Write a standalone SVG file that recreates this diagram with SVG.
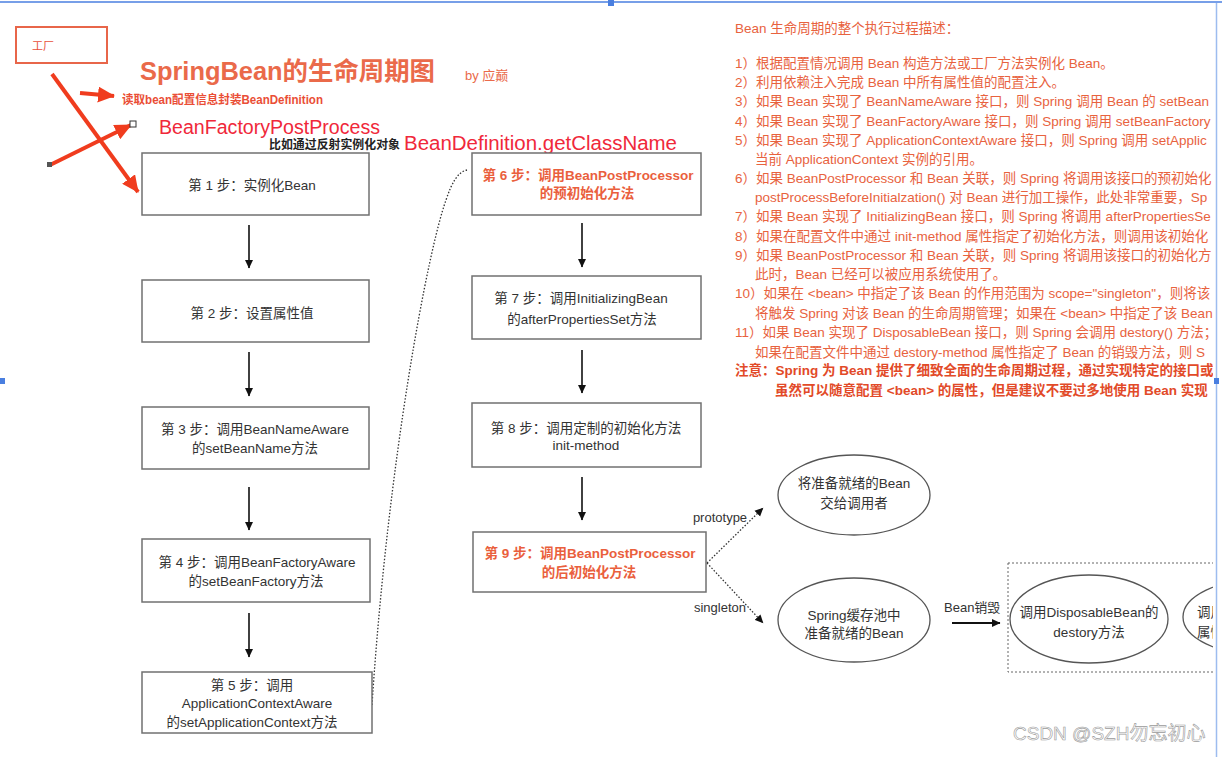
<svg xmlns="http://www.w3.org/2000/svg" width="1222" height="757" viewBox="0 0 1222 757">
<defs>
<style>
.f{font-family:"Liberation Sans","Noto Sans CJK SC",sans-serif}
.box{fill:#fff;stroke:#707070;stroke-width:1.5}
.bt{font-size:13.5px;fill:#333;text-anchor:middle}
.rt{font-weight:bold;fill:#ea5f3d}
.flow{stroke:#111;stroke-width:1.6;fill:none;marker-end:url(#ah)}
.dot{stroke:#333;stroke-width:1.3;fill:none;stroke-dasharray:1.5 1.8}
.ell{fill:#fff;stroke:#555;stroke-width:1.3}
.red{stroke:#f03c1e;stroke-width:4;fill:none;marker-end:url(#rh)}
.desc{font-size:13.5px;fill:#e8623e}
.note{font-size:13.5px;fill:#e24a28;font-weight:bold}
</style>
<marker id="ah" markerUnits="userSpaceOnUse" markerWidth="9" markerHeight="9" refX="8" refY="4.5" orient="auto"><path d="M0,0.5 L8.5,4.5 L0,8.5 z" fill="#111"/></marker>
<marker id="rh" markerUnits="userSpaceOnUse" markerWidth="18" markerHeight="16" refX="16" refY="8" orient="auto"><path d="M0,0 L17,8 L0,16 z" fill="#f03c1e"/></marker>
<clipPath id="clipR"><rect x="0" y="0" width="1213" height="757"/></clipPath>
</defs>
<rect width="1222" height="757" fill="#fff"/>
<line x1="0" y1="2" x2="1222" y2="2" stroke="#4a7fe0" stroke-width="1.5"/>
<line x1="1216.5" y1="3" x2="1216.5" y2="757" stroke="#9dbcef" stroke-width="1.5"/>
<rect x="608" y="0" width="6" height="6" fill="#4a7fe0"/>
<rect x="0" y="378" width="5" height="6" fill="#4a7fe0"/>
<rect x="1214" y="378" width="5" height="6" fill="#4a7fe0"/>

<g id="factory">
<rect x="16" y="27" width="91" height="36" fill="none" stroke="#e8664a" stroke-width="2"/>
<text class="f" x="32" y="50" font-size="11" fill="#e8503a">工厂</text>
</g>
<g id="title">
<text class="f" x="140" y="80" font-size="25" font-weight="bold" fill="#ea6a4a" textLength="295" lengthAdjust="spacingAndGlyphs">SpringBean的生命周期图</text>
<text class="f" x="465" y="80" font-size="13" fill="#ea6a4a">by 应巅</text>
</g>
<g id="annotations">
<text class="f" x="122" y="104" font-size="12" font-weight="bold" fill="#ea4e36" textLength="201" lengthAdjust="spacingAndGlyphs">读取bean配置信息封装BeanDefinition</text>
<text class="f" x="159" y="134" font-size="19.5" fill="#f0283a" textLength="221" lengthAdjust="spacingAndGlyphs">BeanFactoryPostProcess</text>
<text class="f" x="269" y="149" font-size="12" font-weight="bold" fill="#222" textLength="131" lengthAdjust="spacingAndGlyphs">比如通过反射实例化对象</text>
<text class="f" x="404" y="150" font-size="20" fill="#f0283a" textLength="273" lengthAdjust="spacingAndGlyphs">BeanDefinition.getClassName</text>
</g>

<g id="red-arrows">
<path class="red" d="M80,93 L114,96"/>
<path class="red" d="M52,74 L138,192"/>
<path class="red" d="M50,165 L131,125"/>
<rect x="47" y="162" width="5" height="5" fill="#555"/>
<rect x="130" y="121" width="6" height="6" fill="#fff" stroke="#333" stroke-width="1"/>
</g>

<g id="connectors">
<path class="flow" d="M249,225 V268"/>
<path class="flow" d="M249,352 V396"/>
<path class="flow" d="M249,487 V530"/>
<path class="flow" d="M249,613 V657"/>
<path class="flow" d="M582,223 V267"/>
<path class="flow" d="M582,350 V393"/>
<path class="flow" d="M582,477 V520"/>
<path class="dot" d="M372,705 C388,460 428,250 446,200 C452,182 458,172 467,170"/>
<path class="dot" d="M707,563 L763,508" marker-end="url(#ah)"/>
<path class="dot" d="M707,563 L763,623" marker-end="url(#ah)"/>
<path d="M952,623 H1000" stroke="#111" stroke-width="2" marker-end="url(#ah)"/>
<text class="f" x="720" y="522" font-size="13" fill="#333" text-anchor="middle">prototype</text>
<text class="f" x="720" y="612" font-size="13" fill="#333" text-anchor="middle">singleton</text>
<text class="f" x="944" y="612" font-size="13" fill="#333">Bean销毁</text>
</g>

<g id="step1"><rect class="box" x="142" y="153" width="227" height="62"/><text class="f bt" x="252" y="190">第 1 步：实例化Bean</text></g>
<g id="step2"><rect class="box" x="142" y="280" width="227" height="62"/><text class="f bt" x="252" y="318">第 2 步：设置属性值</text></g>
<g id="step3"><rect class="box" x="142" y="407" width="227" height="62"/><text class="f bt" x="255" y="434">第 3 步：调用BeanNameAware</text><text class="f bt" x="255" y="453">的setBeanName方法</text></g>
<g id="step4"><rect class="box" x="142" y="539" width="228" height="63"/><text class="f bt" x="257" y="567">第 4 步：调用BeanFactoryAware</text><text class="f bt" x="256" y="586">的setBeanFactory方法</text></g>
<g id="step5"><rect class="box" x="142" y="672" width="230" height="61"/><text class="f bt" x="252" y="690">第 5 步：调用</text><text class="f bt" x="257" y="708">ApplicationContextAware</text><text class="f bt" x="252" y="727">的setApplicationContext方法</text></g>

<g id="step6"><rect class="box" x="472" y="153" width="229" height="62"/><text class="f bt rt" x="588" y="180">第 6 步：调用BeanPostProcessor</text><text class="f bt rt" x="587" y="198">的预初始化方法</text></g>
<g id="step7"><rect class="box" x="472" y="276" width="229" height="63"/><text class="f bt" x="581" y="303">第 7 步：调用InitializingBean</text><text class="f bt" x="582" y="324">的afterPropertiesSet方法</text></g>
<g id="step8"><rect class="box" x="472" y="403" width="229" height="64"/><text class="f bt" x="586" y="433">第 8 步：调用定制的初始化方法</text><text class="f bt" x="586" y="450">init-method</text></g>
<g id="step9"><rect class="box" x="473" y="532" width="233" height="60" stroke="#555"/><text class="f bt rt" x="590" y="558">第 9 步：调用BeanPostProcessor</text><text class="f bt rt" x="589" y="577">的后初始化方法</text></g>

<g id="prototype-node"><ellipse class="ell" cx="854" cy="495" rx="76" ry="40"/><text class="f bt" x="854" y="488">将准备就绪的Bean</text><text class="f bt" x="854" y="508">交给调用者</text></g>
<g id="singleton-node"><ellipse class="ell" cx="854" cy="620" rx="76" ry="42"/><text class="f bt" x="854" y="620">Spring缓存池中</text><text class="f bt" x="854" y="638">准备就绪的Bean</text></g>

<g id="destroy-group" clip-path="url(#clipR)">
<rect x="1008" y="563" width="260" height="109" fill="none" stroke="#666" stroke-width="1" stroke-dasharray="2 2"/>
<g id="disposable-node"><ellipse class="ell" cx="1089" cy="619" rx="79" ry="44"/><text class="f bt" x="1089" y="617">调用DisposableBean的</text><text class="f bt" x="1089" y="637">destory方法</text></g>
<g id="destroy-method-node"><ellipse class="ell" cx="1262" cy="617" rx="79" ry="38"/><text class="f" x="1197" y="617" font-size="13.5" fill="#333">调用</text><text class="f" x="1197" y="637" font-size="13.5" fill="#333">属性</text></g>
</g>

<g id="description" clip-path="url(#clipR)" class="f">
<text class="desc" x="735" y="33">Bean 生命周期的整个执行过程描述：</text>
<text class="desc" x="735" y="68">1）根据配置情况调用 Bean 构造方法或工厂方法实例化 Bean。</text>
<text class="desc" x="735" y="87">2）利用依赖注入完成 Bean 中所有属性值的配置注入。</text>
<text class="desc" x="735" y="106">3）如果 Bean 实现了 BeanNameAware 接口，则 Spring 调用 Bean 的 setBean</text>
<text class="desc" x="735" y="126">4）如果 Bean 实现了 BeanFactoryAware 接口，则 Spring 调用 setBeanFactory</text>
<text class="desc" x="735" y="145">5）如果 Bean 实现了 ApplicationContextAware 接口，则 Spring 调用 setApplic</text>
<text class="desc" x="755" y="164">当前 ApplicationContext 实例的引用。</text>
<text class="desc" x="735" y="183">6）如果 BeanPostProcessor 和 Bean 关联，则 Spring 将调用该接口的预初始化</text>
<text class="desc" x="755" y="202">postProcessBeforeInitialzation() 对 Bean 进行加工操作，此处非常重要，Sp</text>
<text class="desc" x="735" y="221">7）如果 Bean 实现了 InitializingBean 接口，则 Spring 将调用 afterPropertiesSe</text>
<text class="desc" x="735" y="241">8）如果在配置文件中通过 init-method 属性指定了初始化方法，则调用该初始化</text>
<text class="desc" x="735" y="260">9）如果 BeanPostProcessor 和 Bean 关联，则 Spring 将调用该接口的初始化方</text>
<text class="desc" x="755" y="279">此时，Bean 已经可以被应用系统使用了。</text>
<text class="desc" x="735" y="298">10）如果在 &lt;bean&gt; 中指定了该 Bean 的作用范围为 scope="singleton"，则将该</text>
<text class="desc" x="755" y="318">将触发 Spring 对该 Bean 的生命周期管理；如果在 &lt;bean&gt; 中指定了该 Bean</text>
<text class="desc" x="735" y="337">11）如果 Bean 实现了 DisposableBean 接口，则 Spring 会调用 destory() 方法；</text>
<text class="desc" x="755" y="357">如果在配置文件中通过 destory-method 属性指定了 Bean 的销毁方法，则 S</text>
<text class="note" x="735" y="375">注意：Spring 为 Bean 提供了细致全面的生命周期过程，通过实现特定的接口或</text>
<text class="note" x="775" y="395">虽然可以随意配置 &lt;bean&gt; 的属性，但是建议不要过多地使用 Bean 实现</text>
</g>

<g id="watermark">
<text class="f" x="1013" y="740" font-size="19" fill="#fff" stroke="#9a9a9a" stroke-width="0.6">CSDN @SZH勿忘初心</text>
</g>
</svg>
